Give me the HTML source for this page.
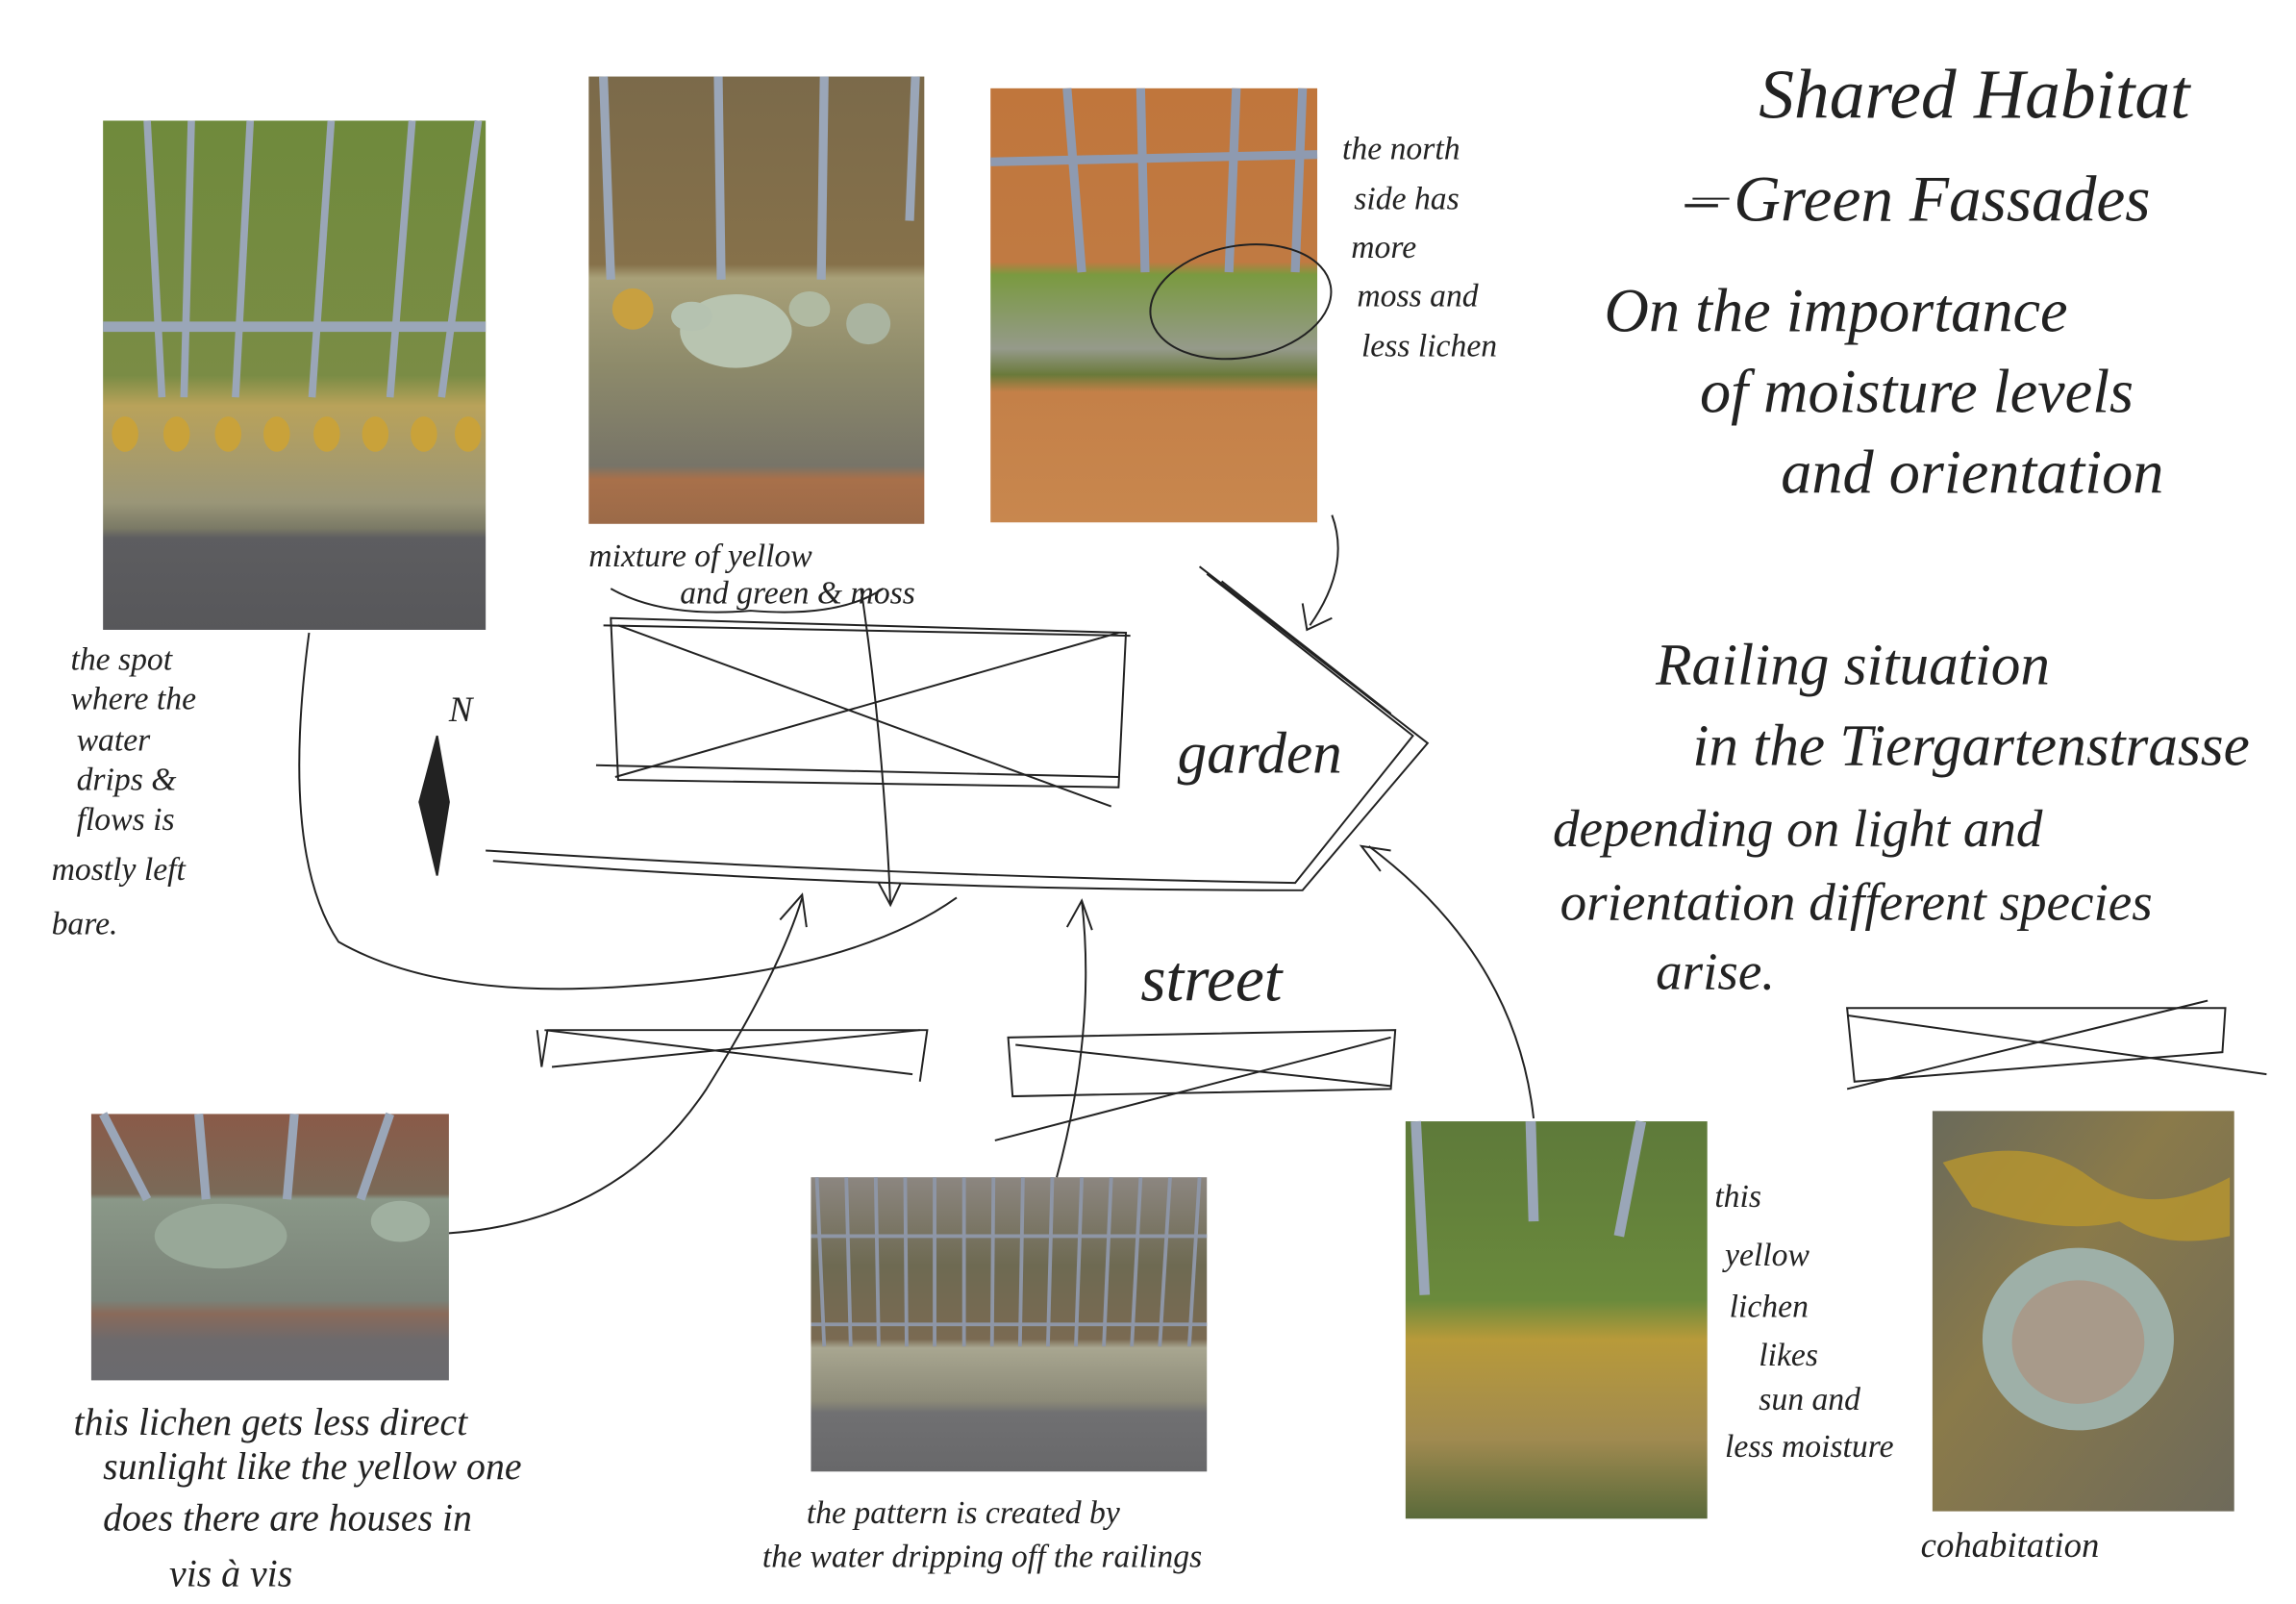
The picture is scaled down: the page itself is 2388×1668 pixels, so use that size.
<!DOCTYPE html>
<html><head><meta charset="utf-8"><style>
html,body{margin:0;padding:0;background:#fff;}
svg{display:block;}
text{font-family:"Liberation Serif",serif;font-style:italic;fill:#222;}
</style></head><body>
<svg width="2388" height="1668" viewBox="0 0 1560 1090" preserveAspectRatio="none" xmlns="http://www.w3.org/2000/svg">
<defs>
<linearGradient id="p1" x1="0" y1="0" x2="0" y2="1">
<stop offset="0" stop-color="#6f8a3c"/><stop offset="0.5" stop-color="#7a8c45"/><stop offset="0.56" stop-color="#b9a25a"/><stop offset="0.75" stop-color="#9a9678"/><stop offset="0.8" stop-color="#7b7a66"/><stop offset="0.82" stop-color="#5d5d60"/><stop offset="1" stop-color="#57575a"/></linearGradient>
<linearGradient id="p2" x1="0" y1="0" x2="0" y2="1">
<stop offset="0" stop-color="#7b6a4a"/><stop offset="0.42" stop-color="#86714a"/><stop offset="0.45" stop-color="#a8a078"/><stop offset="0.65" stop-color="#8d8a6a"/><stop offset="0.87" stop-color="#777468"/><stop offset="0.9" stop-color="#a8704a"/><stop offset="1" stop-color="#9b6a48"/></linearGradient>
<linearGradient id="p3" x1="0" y1="0" x2="0" y2="1">
<stop offset="0" stop-color="#c0763c"/><stop offset="0.4" stop-color="#c07a42"/><stop offset="0.43" stop-color="#7a9a40"/><stop offset="0.6" stop-color="#959a8a"/><stop offset="0.66" stop-color="#6a7a3a"/><stop offset="0.7" stop-color="#c48048"/><stop offset="1" stop-color="#c8874e"/></linearGradient>
<linearGradient id="p4" x1="0" y1="0" x2="0" y2="1">
<stop offset="0" stop-color="#8a5a48"/><stop offset="0.3" stop-color="#7a6a58"/><stop offset="0.32" stop-color="#8a9888"/><stop offset="0.7" stop-color="#7a8278"/><stop offset="0.75" stop-color="#8a6a5a"/><stop offset="0.85" stop-color="#6d6a6c"/><stop offset="1" stop-color="#6a6a6e"/></linearGradient>
<linearGradient id="p5" x1="0" y1="0" x2="0" y2="1">
<stop offset="0" stop-color="#8c8680"/><stop offset="0.3" stop-color="#6e6a52"/><stop offset="0.55" stop-color="#7a6a52"/><stop offset="0.58" stop-color="#a8a690"/><stop offset="0.76" stop-color="#8c8a78"/><stop offset="0.8" stop-color="#707072"/><stop offset="1" stop-color="#68686a"/></linearGradient>
<linearGradient id="p6" x1="0" y1="0" x2="0" y2="1">
<stop offset="0" stop-color="#5e7a3a"/><stop offset="0.45" stop-color="#6a8a3c"/><stop offset="0.55" stop-color="#b89a3a"/><stop offset="0.8" stop-color="#a08a50"/><stop offset="1" stop-color="#5a6a3a"/></linearGradient>
<linearGradient id="p7" x1="0" y1="0" x2="1" y2="1">
<stop offset="0" stop-color="#6a6a5a"/><stop offset="0.4" stop-color="#8a7a4a"/><stop offset="1" stop-color="#6e6a5a"/></linearGradient>
</defs>

<!-- photos -->
<rect x="70" y="82" width="260" height="346" fill="url(#p1)"/>
<g stroke="#9aa6b8" stroke-width="5">
<line x1="100" y1="82" x2="110" y2="270"/><line x1="130" y1="82" x2="125" y2="270"/><line x1="170" y1="82" x2="160" y2="270"/><line x1="225" y1="82" x2="212" y2="270"/><line x1="280" y1="82" x2="265" y2="270"/><line x1="325" y1="82" x2="300" y2="270"/>
<line x1="70" y1="222" x2="330" y2="222" stroke-width="7"/></g>
<g fill="#c9a23a"><ellipse cx="85" cy="295" rx="9" ry="12"/><ellipse cx="120" cy="295" rx="9" ry="12"/><ellipse cx="155" cy="295" rx="9" ry="12"/><ellipse cx="188" cy="295" rx="9" ry="12"/><ellipse cx="222" cy="295" rx="9" ry="12"/><ellipse cx="255" cy="295" rx="9" ry="12"/><ellipse cx="288" cy="295" rx="9" ry="12"/><ellipse cx="318" cy="295" rx="9" ry="12"/></g>

<rect x="400" y="52" width="228" height="304" fill="url(#p2)"/>
<g stroke="#9aa6b8" stroke-width="6"><line x1="410" y1="52" x2="415" y2="190"/><line x1="488" y1="52" x2="490" y2="190"/><line x1="560" y1="52" x2="558" y2="190"/><line x1="622" y1="52" x2="618" y2="150"/></g>
<ellipse cx="500" cy="225" rx="38" ry="25" fill="#b8c4b0"/><ellipse cx="470" cy="215" rx="14" ry="10" fill="#b5c2b0"/><ellipse cx="550" cy="210" rx="14" ry="12" fill="#b0baa2"/><ellipse cx="590" cy="220" rx="15" ry="14" fill="#aab4a0"/>
<ellipse cx="430" cy="210" rx="14" ry="14" fill="#c8a040"/>

<rect x="673" y="60" width="222" height="295" fill="url(#p3)"/>
<g stroke="#8e9ab0" stroke-width="6"><line x1="725" y1="60" x2="735" y2="185"/><line x1="775" y1="60" x2="778" y2="185"/><line x1="840" y1="60" x2="835" y2="185"/><line x1="885" y1="60" x2="880" y2="185"/><line x1="673" y1="110" x2="895" y2="105"/></g>

<rect x="62" y="757" width="243" height="181" fill="url(#p4)"/>
<g stroke="#9aa6b8" stroke-width="6"><line x1="70" y1="757" x2="100" y2="815"/><line x1="135" y1="757" x2="140" y2="815"/><line x1="200" y1="757" x2="195" y2="815"/><line x1="265" y1="757" x2="245" y2="815"/></g>
<ellipse cx="150" cy="840" rx="45" ry="22" fill="#98a898"/><ellipse cx="272" cy="830" rx="20" ry="14" fill="#a0b0a0"/>

<rect x="551" y="800" width="269" height="200" fill="url(#p5)"/>
<g stroke="#8e96a6" stroke-width="2.5">
<line x1="555" y1="800" x2="560" y2="915"/><line x1="575" y1="800" x2="578" y2="915"/><line x1="595" y1="800" x2="597" y2="915"/><line x1="615" y1="800" x2="616" y2="915"/><line x1="635" y1="800" x2="635" y2="915"/><line x1="655" y1="800" x2="655" y2="915"/><line x1="675" y1="800" x2="674" y2="915"/><line x1="695" y1="800" x2="693" y2="915"/><line x1="715" y1="800" x2="712" y2="915"/><line x1="735" y1="800" x2="731" y2="915"/><line x1="755" y1="800" x2="750" y2="915"/><line x1="775" y1="800" x2="769" y2="915"/><line x1="795" y1="800" x2="788" y2="915"/><line x1="815" y1="800" x2="808" y2="915"/>
<line x1="551" y1="840" x2="820" y2="840"/><line x1="551" y1="900" x2="820" y2="900"/></g>

<rect x="955" y="762" width="205" height="270" fill="url(#p6)"/>
<g stroke="#9aa6b8" stroke-width="7"><line x1="962" y1="762" x2="968" y2="880"/><line x1="1040" y1="762" x2="1042" y2="830"/><line x1="1115" y1="762" x2="1100" y2="840"/></g>

<rect x="1313" y="755" width="205" height="272" fill="url(#p7)"/>
<ellipse cx="1412" cy="910" rx="65" ry="62" fill="#9eb0a8"/><ellipse cx="1412" cy="912" rx="45" ry="42" fill="#a89a8a"/>
<path d="M1320 790 Q1380 770 1420 800 T1515 800 L1515 840 Q1470 850 1440 830 Q1400 840 1340 820 Z" fill="#b8962e" opacity="0.8"/>

<!-- drawing lines -->
<g fill="none" stroke="#222" stroke-width="1.3">
<path d="M415 420 L420 530 L760 535 L765 430 Z"/><path d="M410 425 L768 432"/><path d="M418 528 L760 430"/><path d="M420 425 L755 548"/><path d="M405 520 L760 528"/><path d="M415 400 Q450 420 510 415 Q570 420 600 400"/>
<path d="M330 578 Q600 595 880 600 L960 500 L820 390"/><path d="M335 585 Q600 605 885 605 L970 505 L815 385"/><path d="M830 395 L945 485"/>
<path d="M210 430 Q190 580 230 640 Q300 680 430 670 Q580 660 650 610"/>
<path d="M585 400 Q600 500 605 615"/><path d="M597 600 L605 615 L612 600"/>
<path d="M305 838 Q420 830 480 740 Q530 660 545 610"/><path d="M530 625 L545 608 L548 630"/>
<path d="M718 800 Q745 700 735 612"/><path d="M725 630 L735 612 L742 632"/>
<path d="M1042 760 Q1030 650 930 575"/><path d="M938 592 L925 575 L945 578"/>
<path d="M905 350 Q918 385 890 425"/><path d="M885 410 L888 428 L905 420"/>
<ellipse cx="843" cy="205" rx="62" ry="38" transform="rotate(-10 843 205)"/>
<path d="M365 700 L368 725 L372 700 L630 700 L625 735"/><path d="M370 700 L620 730"/><path d="M375 725 L625 700"/>
<path d="M685 705 L688 745 L945 740 L948 700 Z"/><path d="M690 710 L945 738"/><path d="M676 775 L945 705"/>
<path d="M1255 685 L1260 735 L1510 715 L1512 685 Z"/><path d="M1255 690 L1540 730"/><path d="M1255 740 L1500 680"/>
<path d="M1150 135 L1175 135"/>
<path d="M297 500 L285 545 L297 595 L305 545 Z" fill="#222"/>
</g>

<!-- labels -->
<g font-size="22">
<text x="1195" y="80" font-size="48">Shared Habitat</text>
<text x="1145" y="150" font-size="44">– Green Fassades</text>
<text x="1090" y="225" font-size="42">On the importance</text>
<text x="1155" y="280" font-size="42">of moisture levels</text>
<text x="1210" y="335" font-size="42">and orientation</text>
<text x="1125" y="465" font-size="40">Railing situation</text>
<text x="1150" y="520" font-size="40">in the Tiergartenstrasse</text>
<text x="1055" y="575" font-size="36">depending on light and</text>
<text x="1060" y="625" font-size="36">orientation different species</text>
<text x="1125" y="672" font-size="36">arise.</text>
<text x="912" y="108">the north</text><text x="920" y="142">side has</text><text x="918" y="175">more</text><text x="922" y="208">moss and</text><text x="925" y="242">less lichen</text>
<text x="400" y="385">mixture of yellow</text><text x="462" y="410">and green &amp; moss</text>
<text x="48" y="455">the spot</text><text x="48" y="482">where the</text><text x="52" y="510">water</text><text x="52" y="537">drips &amp;</text><text x="52" y="564">flows is</text><text x="35" y="598">mostly left</text><text x="35" y="635">bare.</text>
<text x="305" y="490" font-size="24">N</text>
<text x="800" y="525" font-size="40">garden</text>
<text x="775" y="680" font-size="44">street</text>
<text x="1165" y="820">this</text><text x="1172" y="860">yellow</text><text x="1175" y="895">lichen</text><text x="1195" y="928">likes</text><text x="1195" y="958">sun and</text><text x="1172" y="990">less moisture</text>
<text x="50" y="975" font-size="26">this lichen gets less direct</text><text x="70" y="1005" font-size="26">sunlight like the yellow one</text><text x="70" y="1040" font-size="26">does there are houses in</text><text x="115" y="1078" font-size="26">vis à vis</text>
<text x="548" y="1035">the pattern is created by</text><text x="518" y="1065">the water dripping off the railings</text>
<text x="1305" y="1058" font-size="24">cohabitation</text>
</g>
</svg>
</body></html>
